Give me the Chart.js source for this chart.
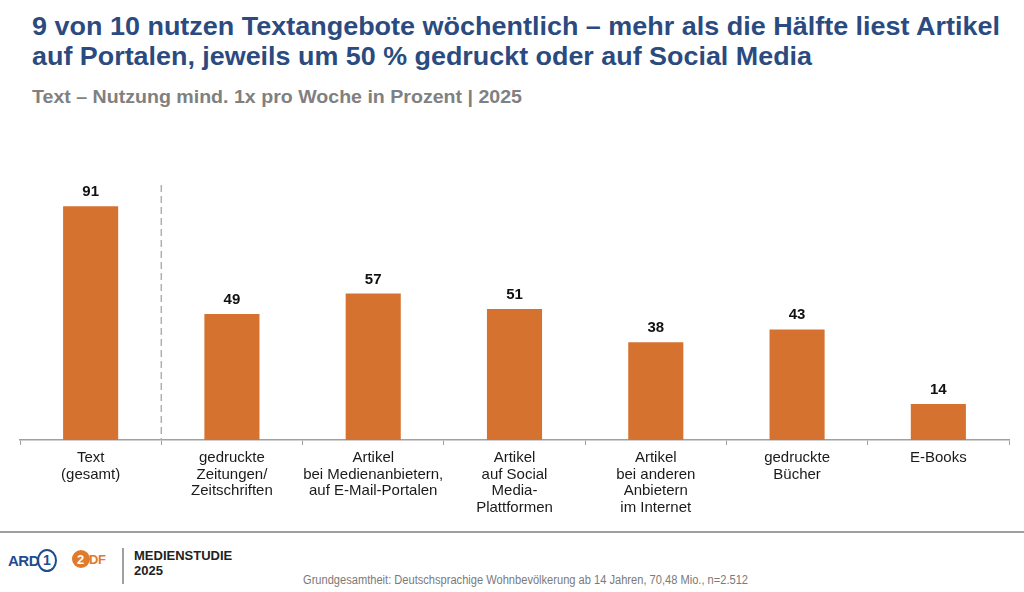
<!DOCTYPE html>
<html>
<head>
<meta charset="utf-8">
<script src="https://cdn.jsdelivr.net/npm/chart.js@4"></script>
<style>
  html, body { margin: 0; padding: 0; background: #fff; }
  body { width: 1024px; height: 592px; position: relative; overflow: hidden; font-family: "Liberation Sans", Arial, sans-serif; }
  .fit { position: absolute; white-space: nowrap; transform-origin: 0 0; }
  #t1, #t2 { left: 32px; font-weight: bold; font-size: 25px; color: #2b4b80; }
  #t1 { top: 12px; }
  #t2 { top: 42px; }
  #sub { left: 32px; top: 86px; font-weight: bold; font-size: 19px; color: #808080; }
  #chart { position: absolute; left: 0; top: 0; }
  #rule { position: absolute; left: 0; top: 531px; width: 1024px; height: 2px; background: #a0a0a0; }
  #src { left: 303px; top: 573px; font-size: 12px; color: #7a7a7a; }
  .ard { position: absolute; left: 8px; top: 552px; font-weight: bold; font-size: 15px; color: #1f4c8f; letter-spacing: -0.5px; }
  .ard1 { position: absolute; left: 37px; top: 549px; width: 16px; height: 19px; border: 2px solid #1f4c8f; border-radius: 50%; font-weight: bold; font-size: 14px; color: #1f4c8f; text-align: center; line-height: 19px; }
  .zdf { position: absolute; left: 72px; top: 550px; width: 18px; height: 18px; border-radius: 50%; background: #e07b2b; }
  .zdf2 { position: absolute; left: 77px; top: 552px; font-weight: bold; font-size: 13px; color: #fff; }
  .zdft { position: absolute; left: 89px; top: 552px; font-weight: bold; font-size: 13px; color: #e07b2b; letter-spacing: -0.3px; }
  .vbar { position: absolute; left: 122px; top: 548px; width: 2px; height: 36px; background: #a0a0a0; }
  .ms { position: absolute; left: 134px; top: 548px; font-weight: bold; font-size: 13px; line-height: 15px; color: #222; }
</style>
</head>
<body>
<div id="t1" class="fit" data-w="968">9 von 10 nutzen Textangebote wöchentlich – mehr als die Hälfte liest Artikel</div>
<div id="t2" class="fit" data-w="780">auf Portalen, jeweils um 50 % gedruckt oder auf Social Media</div>
<div id="sub" class="fit" data-w="490">Text – Nutzung mind. 1x pro Woche in Prozent | 2025</div>
<canvas id="chart" width="1024" height="540"></canvas>
<div id="rule"></div>
<div class="ard">ARD</div>
<div class="ard1">1</div>
<div class="zdf"></div>
<div class="zdf2">2</div>
<div class="zdft">DF</div>
<div class="vbar"></div>
<div class="ms">MEDIENSTUDIE<br>2025</div>
<div id="src" class="fit" data-w="445">Grundgesamtheit: Deutschsprachige Wohnbevölkerung ab 14 Jahren, 70,48 Mio., n=2.512</div>
<script>
// categories (multi-line labels)
const categories = [
  ["Text", "(gesamt)"],
  ["gedruckte", "Zeitungen/", "Zeitschriften"],
  ["Artikel", "bei Medienanbietern,", "auf E-Mail-Portalen"],
  ["Artikel", "auf Social", "Media-", "Plattformen"],
  ["Artikel", "bei anderen", "Anbietern", "im Internet"],
  ["gedruckte", "Bücher"],
  ["E-Books"]
];
const usage = [91, 49, 57, 51, 38, 43, 14];

const barColor = "#d67230";

// squeeze the condensed-looking texts to the reference width
document.querySelectorAll(".fit").forEach(el => {
  const target = +el.dataset.w;
  const w = el.getBoundingClientRect().width;
  if (w > 0) el.style.transform = "scaleX(" + (target / w) + ")";
});

const valueLabels = {
  id: "valueLabels",
  afterDatasetsDraw(chart) {
    const ctx = chart.ctx;
    const meta = chart.getDatasetMeta(0);
    ctx.save();
    ctx.font = "bold 15px 'Liberation Sans', Arial, sans-serif";
    ctx.fillStyle = "#111";
    ctx.textAlign = "center";
    ctx.textBaseline = "alphabetic";
    meta.data.forEach((bar, i) => {
      ctx.fillText(usage[i], bar.x, bar.y - 10);
    });
    ctx.restore();
  }
};

const separator = {
  id: "separator",
  beforeDatasetsDraw(chart) {
    const x = chart.scales.x;
    const px = (x.getPixelForValue(0) + x.getPixelForValue(1)) / 2;
    const ctx = chart.ctx;
    ctx.save();
    ctx.strokeStyle = "#b0b0b0";
    ctx.lineWidth = 1.5;
    ctx.setLineDash([7, 4]);
    ctx.beginPath();
    ctx.moveTo(px, chart.chartArea.top + 2);
    ctx.lineTo(px, chart.chartArea.bottom);
    ctx.stroke();
    ctx.restore();
  }
};

new Chart(document.getElementById("chart"), {
  type: "bar",
  data: {
    labels: categories,
    datasets: [{
      data: usage,
      backgroundColor: barColor,
      barPercentage: 0.39,
      categoryPercentage: 1
    }]
  },
  options: {
    responsive: false,
    animation: false,
    layout: { padding: { left: 20, right: 15, top: 183, bottom: 0 } },
    plugins: { legend: { display: false }, tooltip: { enabled: false } },
    scales: {
      x: {
        afterFit(s) { s.height = 100; },
        grid: { display: true, drawOnChartArea: false, drawTicks: true, tickLength: 5, color: "#a0a0a0", offset: true },
        border: { display: true, color: "#a0a0a0", width: 1.5 },
        ticks: {
          autoSkip: false, maxRotation: 0, padding: 5,
          color: "#1a1a1a",
          font: { family: "'Liberation Sans', Arial, sans-serif", size: 15, lineHeight: 1.1 }
        }
      },
      y: {
        display: false,
        min: 0, max: 100
      }
    }
  },
  plugins: [separator, valueLabels]
});
</script>
</body>
</html>
